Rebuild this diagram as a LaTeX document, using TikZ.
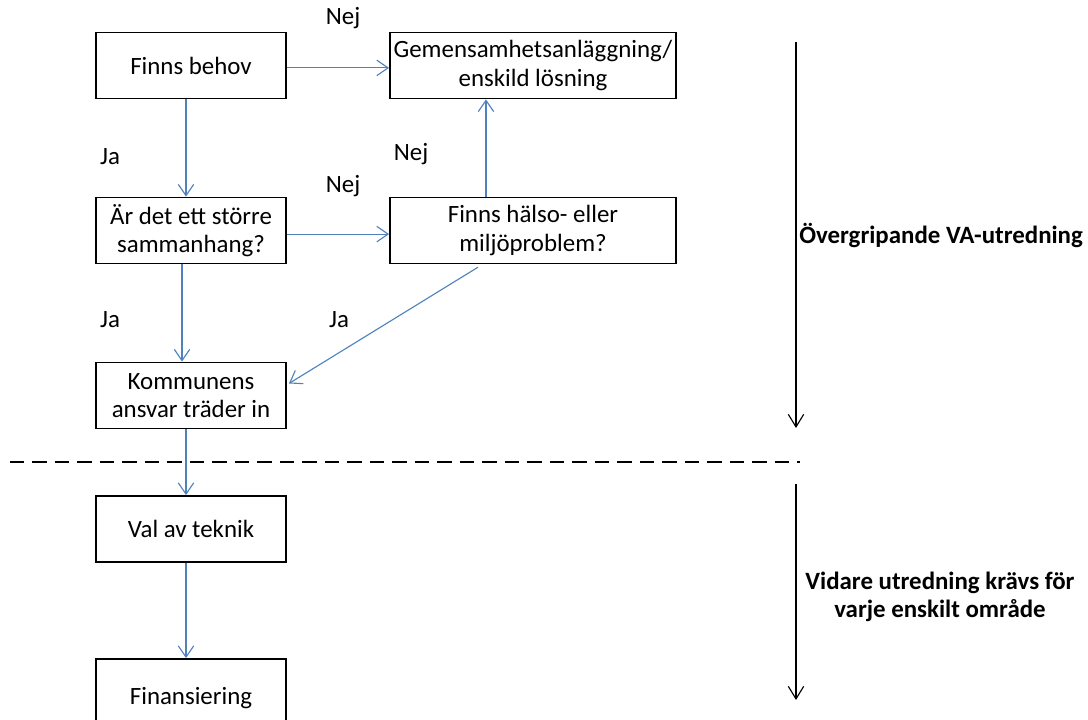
\documentclass[tikz,border=0pt]{standalone}
\usepackage{fontspec}
\setmainfont{Carlito}
\usetikzlibrary{arrows.meta}
\definecolor{vaBlue}{HTML}{4F81BD}

\begin{document}
\begin{tikzpicture}[x=0.025cm, y=-0.025cm,
    vaBox/.style={draw, line width=1.3pt, minimum width=4.75cm, minimum height=1.65cm,
        align=center, inner sep=2pt, font=\fontsize{17.7}{20}\selectfont},
    vaWide/.style={vaBox, minimum width=7.15cm},
    vaFlow/.style={draw=vaBlue, line width=0.8pt, -{Straight Barb[length=8pt,width=11pt]}},
    vaLbl/.style={font=\fontsize{17.7}{20}\selectfont},
    vaPhase/.style={line width=0.8pt, -{Straight Barb[length=9pt,width=11pt]}},
]
\useasboundingbox (0,0) rectangle (1088,720);
% Boxes of the flow
\node[vaBox] (behov) at (191,65.5) {Finns behov};
\node[vaWide] (gemensam) at (533,65.5) {Gemensamhetsanläggning/\\enskild lösning};
\node[vaBox] (storre) at (191,230.5) {Är det ett större\\sammanhang?};
\node[vaWide] (halso) at (533,230.5) {Finns hälso- eller\\miljöproblem?};
\node[vaBox] (kommun) at (191,395.5) {Kommunens\\ansvar träder in};
\node[vaBox] (teknik) at (191,529) {Val av teknik};
\node[vaBox, minimum height=1.95cm] (finans) at (191,698) {Finansiering};
% Connectors
\draw[vaFlow] ([yshift=-0.06cm]behov.east) -- ([yshift=-0.06cm]gemensam.west);
\draw[vaFlow] ([xshift=-0.125cm]behov.south) -- ([xshift=-0.125cm]storre.north);
\draw[vaFlow] ([yshift=-0.09cm]storre.east) -- ([yshift=-0.09cm]halso.west);
\draw[vaFlow] ([xshift=-1.175cm]halso.north) -- ([xshift=-1.175cm]gemensam.south);
\draw[vaFlow] ([xshift=-0.225cm]storre.south) -- ([xshift=-0.225cm]kommun.north);
\draw[vaFlow] ([xshift=-1.375cm,yshift=-0.07cm]halso.south) -- ([xshift=0.05cm,yshift=0.3cm]kommun.east);
\draw[vaFlow] ([xshift=-0.125cm]kommun.south) -- ([xshift=-0.125cm]teknik.north);
\draw[vaFlow] ([xshift=-0.125cm]teknik.south) -- ([xshift=-0.125cm]finans.north);
% Answers
\node[vaLbl] (nej1) at (343,18) {Nej};
\node[vaLbl] (ja1) at (110,157) {Ja};
\node[vaLbl] (nej2) at (411,154) {Nej};
\node[vaLbl] (nej3) at (343,186) {Nej};
\node[vaLbl] (ja2) at (110,320) {Ja};
\node[vaLbl] (ja3) at (339,320) {Ja};
% Phase divider and phases
\coordinate (divL) at (10,462);
\coordinate (divR) at (800,462);
\draw[line width=0.8pt, dash pattern=on 10pt off 6pt] (divL) -- (divR);
\coordinate (ph1top) at (796,42);
\coordinate (ph1bot) at (796,428);
\coordinate (ph2top) at (796,484);
\coordinate (ph2bot) at (796,700);
\draw[vaPhase] (ph1top) -- (ph1bot);
\draw[vaPhase] (ph2top) -- (ph2bot);
\node[vaLbl, font=\fontsize{17.7}{20}\selectfont\bfseries, anchor=west, inner sep=0pt] (ph1) at (799,235) {Övergripande VA-utredning};
\node[vaLbl, font=\fontsize{17.7}{20}\selectfont\bfseries, align=center] (ph2) at (940,597) {Vidare utredning krävs för\\varje enskilt område};
\end{tikzpicture}
\end{document}
